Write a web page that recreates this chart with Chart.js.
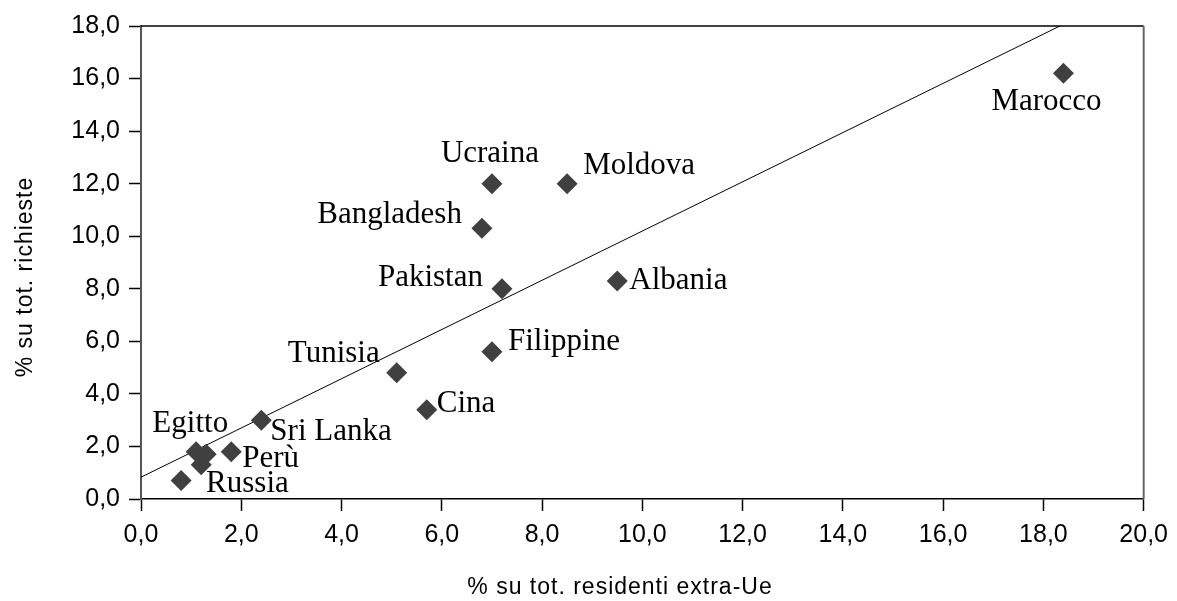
<!DOCTYPE html>
<html>
<head>
<meta charset="utf-8">
<script src="https://cdn.jsdelivr.net/npm/chart.js@4"></script>
<style>
  html, body { margin: 0; padding: 0; background: #fff; }
  #wrap { width: 1177px; height: 601px; }
</style>
</head>
<body>
<div id="wrap"><canvas id="chart" width="1177" height="601"></canvas></div>
<script>
// Dati
const countries = ['Marocco', 'Ucraina', 'Moldova', 'Bangladesh', 'Pakistan', 'Albania', 'Tunisia',
    'Filippine', 'Cina', 'Sri Lanka', 'Egitto', 'Perù', 'Russia', '', ''];
const residentShare = [18.4, 7.0, 8.5, 6.8, 7.2, 9.5, 5.1, 7.0, 5.7, 2.4, 1.1, 1.8, 0.8, 1.3, 1.2];
const requestShare = [16.2, 12.0, 12.0, 10.3, 8.0, 8.3, 4.8, 5.6, 3.4, 3.0, 1.8, 1.8, 0.7, 1.7, 1.3];
const trendX = [0, 18.33];
const trendY = [0.83, 18];
const xTicks = [0, 2, 4, 6, 8, 10, 12, 14, 16, 18, 20];
const yTicks = [0, 2, 4, 6, 8, 10, 12, 14, 16, 18];

// Posizione delle etichette rispetto al punto (pixel)
const labelPlace = {
    'Marocco':    { align: 'center', dx: -17, dy: 29 },
    'Ucraina':    { align: 'center', dx: -2,  dy: -30 },
    'Moldova':    { align: 'left',   dx: 16,  dy: -18 },
    'Bangladesh': { align: 'right',  dx: -20, dy: -13 },
    'Pakistan':   { align: 'right',  dx: -19, dy: -11 },
    'Albania':    { align: 'left',   dx: 12,  dy: 0 },
    'Tunisia':    { align: 'right',  dx: -17, dy: -19 },
    'Filippine':  { align: 'left',   dx: 16,  dy: -10 },
    'Cina':       { align: 'left',   dx: 10,  dy: -6 },
    'Sri Lanka':  { align: 'left',   dx: 9,   dy: 12 },
    'Egitto':     { align: 'right',  dx: 32,  dy: -28 },
    'Perù':       { align: 'left',   dx: 11,  dy: 7 },
    'Russia':     { align: 'left',   dx: 25,  dy: 3 }
};

const fmt = v => v.toFixed(1).replace('.', ',');

const pointLabels = {
    id: 'pointLabels',
    afterDatasetsDraw(chart) {
        const ctx = chart.ctx;
        const meta = chart.getDatasetMeta(1);
        ctx.save();
        ctx.font = '31px "Liberation Serif", "Times New Roman", serif';
        ctx.fillStyle = '#000';
        ctx.textBaseline = 'middle';
        meta.data.forEach((pt, i) => {
            const name = countries[i];
            if (!name) return;
            const p = labelPlace[name];
            ctx.textAlign = p.align;
            ctx.fillText(name, pt.x + p.dx, pt.y + p.dy);
        });
        ctx.restore();
    }
};

const frameAndTitles = {
    id: 'frameAndTitles',
    afterDraw(chart) {
        const ctx = chart.ctx;
        const a = chart.chartArea;
        ctx.save();
        // bordo superiore e destro dell'area del grafico
        ctx.strokeStyle = '#000';
        ctx.lineWidth = 1.5;
        ctx.beginPath();
        ctx.moveTo(a.left, a.top);
        ctx.lineTo(a.right, a.top);
        ctx.stroke();
        ctx.strokeStyle = '#666';
        ctx.lineWidth = 2;
        ctx.beginPath();
        ctx.moveTo(a.right, a.top);
        ctx.lineTo(a.right, a.bottom);
        ctx.stroke();

        // titoli degli assi
        ctx.fillStyle = '#000';
        ctx.font = '23px "Liberation Sans", Arial, sans-serif';
        ctx.letterSpacing = '1px';
        ctx.textAlign = 'center';
        ctx.textBaseline = 'middle';
        ctx.fillText('% su tot. residenti extra-Ue', 620, 588);
        ctx.translate(26, 277);
        ctx.rotate(-Math.PI / 2);
        ctx.fillText('% su tot. richieste', 0, 0);
        ctx.restore();
    }
};

const tickFont = { family: '"Liberation Sans", Arial, sans-serif', size: 25 };

new Chart(document.getElementById('chart'), {
    data: {
        datasets: [{
            type: 'line',
            data: trendX.map((x, i) => ({ x: x, y: trendY[i] })),
            borderColor: '#000',
            borderWidth: 1,
            pointRadius: 0,
            fill: false,
            order: 1
        }, {
            type: 'scatter',
            data: residentShare.map((x, i) => ({ x: x, y: requestShare[i] })),
            pointStyle: 'rectRot',
            pointRadius: 10.5,
            pointHoverRadius: 10.5,
            backgroundColor: '#404040',
            borderColor: '#404040',
            borderWidth: 0,
            order: 0
        }]
    },
    options: {
        responsive: false,
        animation: false,
        devicePixelRatio: 1,
        layout: { padding: { left: 0, top: 26, right: 29, bottom: 0 } },
        plugins: {
            legend: { display: false },
            tooltip: { enabled: false }
        },
        scales: {
            x: {
                type: 'linear',
                min: 0,
                max: 20,
                afterBuildTicks: axis => { axis.ticks = xTicks.map(v => ({ value: v })); },
                afterFit: axis => { axis.height = 102; },
                border: { color: '#000', width: 1.5 },
                grid: { drawOnChartArea: false, drawTicks: true, tickLength: 12, color: '#000', tickWidth: 1.5 },
                ticks: { color: '#000', font: tickFont, padding: 9, maxRotation: 0, callback: v => fmt(v) }
            },
            y: {
                type: 'linear',
                min: 0,
                max: 18,
                afterBuildTicks: axis => { axis.ticks = yTicks.map(v => ({ value: v })); },
                afterFit: axis => { axis.width = 141; },
                border: { color: '#555', width: 2 },
                grid: { drawOnChartArea: false, drawTicks: true, tickLength: 12, color: '#000', tickWidth: 1.5 },
                ticks: { color: '#000', font: tickFont, padding: 9, callback: v => fmt(v) }
            }
        }
    },
    plugins: [pointLabels, frameAndTitles]
});
</script>
</body>
</html>
